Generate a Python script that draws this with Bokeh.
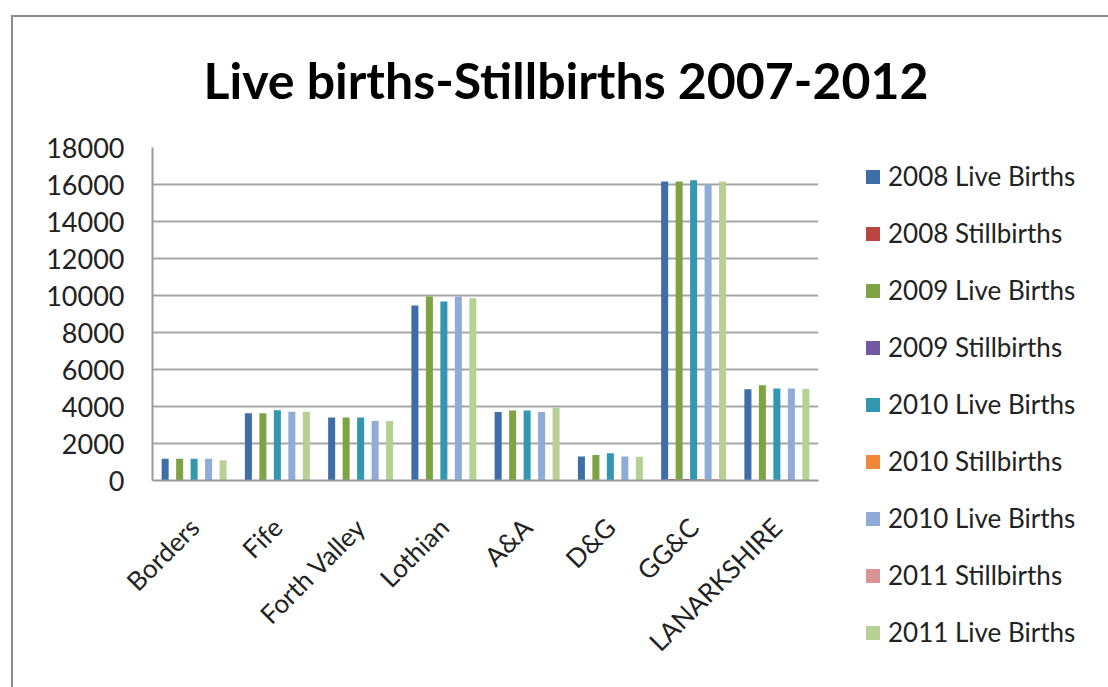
import math
from bokeh.plotting import figure
from bokeh.layouts import column, row
from bokeh.models import FactorRange, Range1d, Label, Div
from bokeh.transform import dodge
from bokeh.embed import file_html
from bokeh.resources import INLINE

regions = ["Borders", "Fife", "Forth Valley", "Lothian", "A&A", "D&G", "GG&C", "LANARKSHIRE"]

live_2008 = [1170, 3640, 3400, 9460, 3700, 1300, 16160, 4930]
still_2008 = [6, 18, 17, 48, 19, 7, 85, 26]
live_2009 = [1170, 3640, 3400, 9950, 3790, 1380, 16160, 5150]
still_2009 = [5, 17, 16, 45, 18, 6, 80, 25]
live_2010 = [1170, 3800, 3400, 9670, 3790, 1470, 16230, 4970]
still_2010 = [6, 16, 15, 44, 17, 7, 82, 24]
live_2010b = [1170, 3720, 3220, 9950, 3700, 1300, 15980, 4970]
still_2011 = [5, 17, 16, 46, 18, 6, 84, 25]
live_2011 = [1100, 3720, 3220, 9850, 3930, 1280, 16160, 4950]

series_names = ["2008 Live Births", "2008 Stillbirths", "2009 Live Births", "2009 Stillbirths",
                "2010 Live Births", "2010 Stillbirths", "2010 Live Births", "2011 Stillbirths",
                "2011 Live Births"]
series_values = [live_2008, still_2008, live_2009, still_2009, live_2010, still_2010,
                 live_2010b, still_2011, live_2011]
colors = ["#3E6DA8", "#B94541", "#7FA244", "#7158A0", "#3497B0", "#F08838",
          "#8FABD8", "#DA9495", "#B7D194"]

y_ticks = list(range(0, 18001, 2000))
chart_title = "Live births-Stillbirths 2007-2012"

# ---- title strip ----
tf = figure(width=1095, height=100, x_range=Range1d(0, 1095), y_range=Range1d(0, 100),
            min_border=0, toolbar_location=None, output_backend="svg", title=None,
            x_axis_location=None, y_axis_location=None)
tf.grid.visible = False
tf.outline_line_color = None
tf.add_layout(Label(x=190, y=38, text=chart_title, text_font="Lato", text_font_size="50px",
                    text_font_style="bold", text_color="#000000", text_baseline="alphabetic"))

# ---- main chart ----
p = figure(x_range=FactorRange(*regions, range_padding=0), y_range=Range1d(0, 18000),
           width=825, height=570, output_backend="svg", toolbar_location=None, title=None,
           min_border_left=139, min_border_right=20, min_border_top=30, min_border_bottom=207)

slot = 0.087
for i, (vals, col) in enumerate(zip(series_values, colors)):
    off = (i - 4) * slot
    p.vbar(x=dodge("x", off, range=p.x_range), top="top", width=slot * 0.97,
           source=dict(x=regions, top=vals), color=col, line_color=None)

ya = p.yaxis[0]
ya.ticker = y_ticks
ya.major_label_text_font = "Lato"
ya.major_label_text_font_size = "27px"
ya.major_label_text_color = "#222222"
ya.major_tick_out = 0
ya.major_tick_in = 0
ya.minor_tick_out = 0
ya.minor_tick_in = 0
ya.major_label_standoff = 28
ya.axis_line_color = "#9a9a9a"
ya.axis_line_width = 2

xa = p.xaxis[0]
xa.major_label_orientation = math.pi / 4
xa.major_label_text_font = "Lato"
xa.major_label_text_font_size = "26px"
xa.major_label_text_color = "#222222"
xa.major_tick_out = 0
xa.major_tick_in = 0
xa.major_label_standoff = 42
xa.axis_line_color = "#9a9a9a"
xa.axis_line_width = 2

p.xgrid.grid_line_color = None
p.ygrid.grid_line_color = "#a6a6a6"
p.ygrid.grid_line_width = 2
p.outline_line_color = None

# ---- legend (series names and colours from the lists above) ----
entries = "".join(
    '<div style="height:57px;display:flex;align-items:center;white-space:nowrap;">'
    f'<span style="display:inline-block;width:14px;height:14px;background:{col};'
    f'margin-right:8px;"></span>{name}</div>'
    for name, col in zip(series_names, colors)
)
legend_div = Div(
    text=(f'<div style="font-family:Lato,sans-serif;font-size:26px;color:#222222;'
          f'padding-top:31px;padding-left:28px;">{entries}</div>'),
    width=270, height=570, margin=(0, 0, 0, 0))

layout = column(tf, row(p, legend_div, spacing=0), spacing=0)
layout.margin = (15, 0, 0, 11)
layout.styles = {"border-top": "2px solid #8c8c8c", "border-left": "2px solid #8c8c8c"}

open("out.html", "w").write(file_html(layout, INLINE))
